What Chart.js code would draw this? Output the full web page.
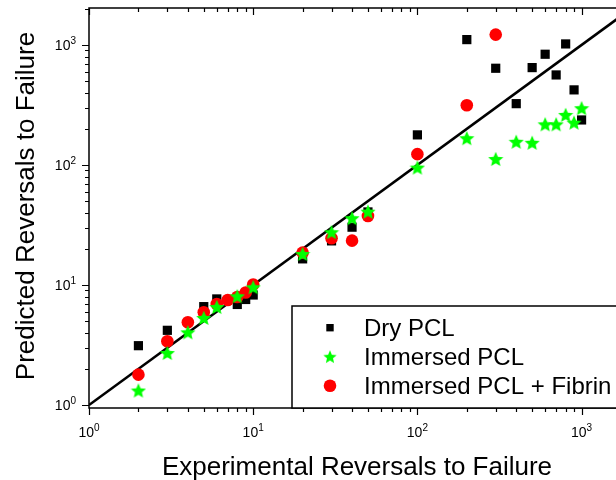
<!DOCTYPE html>
<html><head><meta charset="utf-8">
<script src="https://cdn.jsdelivr.net/npm/chart.js@4"></script>
<style>
html,body{margin:0;padding:0;background:#fff;overflow:hidden;width:616px;height:480px}
#wrap{width:640px;height:480px}
</style></head>
<body><div id="wrap"><canvas id="c" width="640" height="480"></canvas></div>
<script>
// ---- data ----
const seriesNames = ['Dry PCL', 'Immersed PCL', 'Immersed PCL + Fibrin'];
const dryX = [2, 3, 5, 6, 8, 9, 10, 20, 30, 40, 50, 100, 200, 300, 400, 500, 600, 700, 800, 900, 1000];
const dryY = [3.12, 4.19, 6.6, 7.65, 6.88, 7.57, 8.25, 16.5, 23.3, 30.3, 40.6, 178, 1107, 639, 324, 647, 836, 562, 1019, 422, 237];
const immX = [2, 3, 4, 5, 6, 8, 10, 20, 30, 40, 50, 100, 200, 300, 400, 500, 600, 700, 800, 900, 1000];
const immY = [1.32, 2.71, 4.03, 5.31, 6.55, 8.05, 9.57, 18.1, 27.5, 36, 40.8, 95, 167, 112, 156, 153, 218, 218, 261, 225, 297];
const fibX = [2, 3, 4, 5, 6, 7, 8, 9, 10, 20, 30, 40, 50, 100, 200, 300];
const fibY = [1.79, 3.4, 4.89, 5.93, 6.94, 7.5, 7.94, 8.66, 10.1, 18.6, 24.5, 23.4, 37.6, 123, 314, 1219];
const fitLine = [1, 2000];           // predicted = experimental
const majorTicks = [1, 10, 100, 1000];
const tickBase = '10';
const tickExp = ['0', '1', '2', '3'];
const xTitle = 'Experimental Reversals to Failure';
const yTitle = 'Predicted Reversals to Failure';
const xRange = [1, 2000];
const yRange = [0.944, 2030];

const toPts = (xs, ys) => xs.map((x, i) => ({x: x, y: ys[i]}));
const FONT = '"Liberation Sans", Arial, Helvetica, sans-serif';
const GREEN = '#00ff00', RED = '#ff0000';

function makeStar(size, color) {
  const c = document.createElement('canvas');
  c.width = c.height = size;
  const g = c.getContext('2d');
  const cx = size / 2, cy = size / 2 + size * 0.04, R = size / 2, r = R * 0.45;
  g.beginPath();
  for (let i = 0; i < 10; i++) {
    const a = -Math.PI / 2 + i * Math.PI / 5;
    const rad = i % 2 ? r : R;
    g.lineTo(cx + rad * Math.cos(a), cy + rad * Math.sin(a));
  }
  g.closePath();
  g.fillStyle = color;
  g.fill();
  return c;
}
const starImg = makeStar(16, GREEN);
const starLegend = makeStar(14, GREEN);

const deco = {
  id: 'deco',
  afterDraw(chart) {
    const ctx = chart.ctx, a = chart.chartArea;
    const xs = chart.scales.x, ys = chart.scales.y;
    ctx.save();
    ctx.strokeStyle = '#000';
    ctx.fillStyle = '#000';
    ctx.lineWidth = 1.5;
    ctx.strokeRect(a.left, a.top, a.right - a.left, a.bottom - a.top);
    // ticks
    ctx.lineWidth = 1.2;
    const vals = [];
    majorTicks.forEach(d => { for (let m = 1; m <= 9; m++) vals.push({v: m * d, major: m === 1}); });
    ctx.beginPath();
    vals.forEach(t => {
      const len = t.major ? 7 : 4;
      if (t.v >= xRange[0] && t.v <= xRange[1]) {
        const px = Math.round(xs.getPixelForValue(t.v)) + 0.5;
        ctx.moveTo(px, a.bottom); ctx.lineTo(px, a.bottom + len);
        ctx.moveTo(px, a.top); ctx.lineTo(px, a.top + len);
      }
      if (t.v >= yRange[0] && t.v <= yRange[1]) {
        const py = Math.round(ys.getPixelForValue(t.v)) + 0.5;
        ctx.moveTo(a.left, py); ctx.lineTo(a.left - len, py);
        ctx.moveTo(a.right, py); ctx.lineTo(a.right - len, py);
      }
    });
    ctx.stroke();
    // tick labels
    const bf = '14px ' + FONT, ef = '10px ' + FONT;
    ctx.textBaseline = 'alphabetic';
    ctx.textAlign = 'left';
    majorTicks.forEach((v, i) => {
      ctx.font = bf; const wb = ctx.measureText(tickBase).width;
      ctx.font = ef; const we = ctx.measureText(tickExp[i]).width;
      // left
      const py = ys.getPixelForValue(v);
      const rx = a.left - 13;
      ctx.font = bf; ctx.fillText(tickBase, rx - we - wb, py + 5.5);
      ctx.font = ef; ctx.fillText(tickExp[i], rx - we, py - 0.5);
      // bottom
      const px = xs.getPixelForValue(v);
      const sx = px - (wb + we) / 2;
      ctx.font = bf; ctx.fillText(tickBase, sx, 437);
      ctx.font = ef; ctx.fillText(tickExp[i], sx + wb, 431);
    });
    // titles
    ctx.font = '26px ' + FONT;
    ctx.textAlign = 'center';
    ctx.fillText(xTitle, 357, 475);
    ctx.save();
    ctx.translate(33.5, 206);
    ctx.rotate(-Math.PI / 2);
    ctx.fillText(yTitle, 0, 0);
    ctx.restore();
    // legend
    const lx = 292, ly = 306;
    ctx.fillStyle = '#fff';
    ctx.fillRect(lx, ly, 640 - lx, a.bottom - ly);
    ctx.lineWidth = 1.5;
    ctx.strokeRect(lx, ly, 640 - lx + 10, a.bottom - ly);
    const rows = [327.7, 356.7, 385.7];
    const mx = 330;
    ctx.fillStyle = '#000';
    ctx.fillRect(mx - 3.7, rows[0] - 3.7, 7.4, 7.4);
    ctx.drawImage(starLegend, mx - 7, rows[1] - 7);
    ctx.fillStyle = RED;
    ctx.beginPath(); ctx.arc(mx, rows[2], 6.3, 0, Math.PI * 2); ctx.fill();
    ctx.fillStyle = '#000';
    ctx.font = '24px ' + FONT;
    ctx.textAlign = 'left';
    seriesNames.forEach((n, i) => ctx.fillText(n, 364, rows[i] + 8));
    ctx.restore();
  }
};

new Chart(document.getElementById('c'), {
  type: 'scatter',
  data: {
    datasets: [
      {label: 'fit', type: 'line', data: toPts(fitLine, fitLine), borderColor: '#000', borderWidth: 2.6,
       pointRadius: 0, fill: false, order: 4},
      {label: seriesNames[0], data: toPts(dryX, dryY), pointStyle: 'rect', pointRadius: 6.5,
       backgroundColor: '#000', borderWidth: 0, order: 3},
      {label: seriesNames[2], data: toPts(fibX, fibY), pointStyle: 'circle', pointRadius: 6.3,
       backgroundColor: RED, borderWidth: 0, order: 2},
      {label: seriesNames[1], data: toPts(immX, immY), pointStyle: starImg, pointRadius: 7,
       backgroundColor: GREEN, borderWidth: 0, order: 1}
    ]
  },
  options: {
    responsive: false,
    animation: false,
    events: [],
    layout: {padding: {top: 8, right: 9, left: 0, bottom: 0}},
    plugins: {legend: {display: false}, tooltip: {enabled: false}},
    scales: {
      x: {type: 'logarithmic', min: xRange[0], max: xRange[1],
          ticks: {display: false}, grid: {display: false, drawTicks: false}, border: {display: false},
          afterFit: s => { s.height = 72; }},
      y: {type: 'logarithmic', min: yRange[0], max: yRange[1],
          ticks: {display: false}, grid: {display: false, drawTicks: false}, border: {display: false},
          afterFit: s => { s.width = 89; }}
    }
  },
  plugins: [deco]
});
</script>
</body></html>
